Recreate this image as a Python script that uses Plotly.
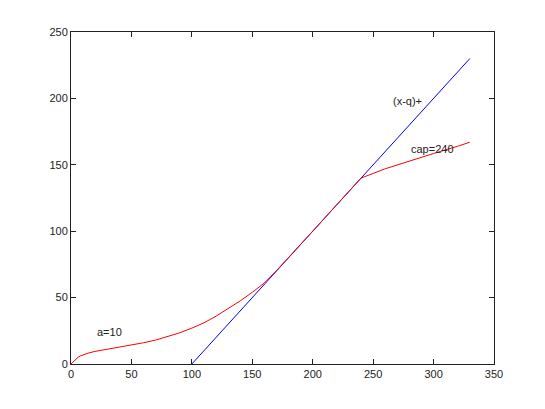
import plotly.graph_objects as go

# capped curve (red) and the plain (x-q)+ line (blue)
x_cap = [0, 2, 4, 6, 8, 10, 15, 20, 30, 40, 50, 60, 70, 80, 90, 100, 110, 120,
         130, 140, 150, 160, 170, 180, 200, 220, 240, 260, 280, 300, 320, 330]
y_cap = [0, 2, 3.8, 5.2, 6.2, 7, 8.4, 9.5, 11, 12.5, 14, 16, 18, 20.5, 23.5, 27,
         31, 36, 41.5, 47.5, 54, 61, 70.3, 80, 100, 120, 140, 147, 153, 158.5, 164, 167]
x_plus = [100, 330]
y_plus = [0, 230]

labels = ["a=10", "(x-q)+", "cap=240"]
label_x = [20, 265, 280]
label_y = [24, 198, 162]

x_ticks = [0, 50, 100, 150, 200, 250, 300, 350]
y_ticks = [0, 50, 100, 150, 200, 250]

fig = go.Figure()
fig.add_trace(go.Scatter(x=x_plus, y=y_plus, mode="lines",
                         line=dict(color="#0000ff", width=1)))
fig.add_trace(go.Scatter(x=x_cap, y=y_cap, mode="lines",
                         line=dict(color="#ff0000", width=1)))

for t, tx, ty in zip(labels, label_x, label_y):
    fig.add_annotation(x=tx, y=ty, text=t, showarrow=False,
                       xanchor="left", yanchor="middle",
                       font=dict(size=11, color="#222222"))

axis_style = dict(showgrid=False, zeroline=False, showline=True, linecolor="#222222",
                  linewidth=1, mirror="ticks", ticks="inside", ticklen=5,
                  tickcolor="#222222", tickfont=dict(size=11, color="#222222"))

fig.update_xaxes(range=[0, 350], tickvals=x_ticks, **axis_style)
fig.update_yaxes(range=[0, 250], tickvals=y_ticks, **axis_style)

# page body adds 8px, so the figure is a little smaller than the window
fig.update_layout(
    width=537, height=401,
    margin=dict(l=63, r=51, t=24, b=45),
    showlegend=False,
    plot_bgcolor="white", paper_bgcolor="white",
    font=dict(family="Liberation Sans, Arial, sans-serif"),
)

fig.write_html("out.html")
